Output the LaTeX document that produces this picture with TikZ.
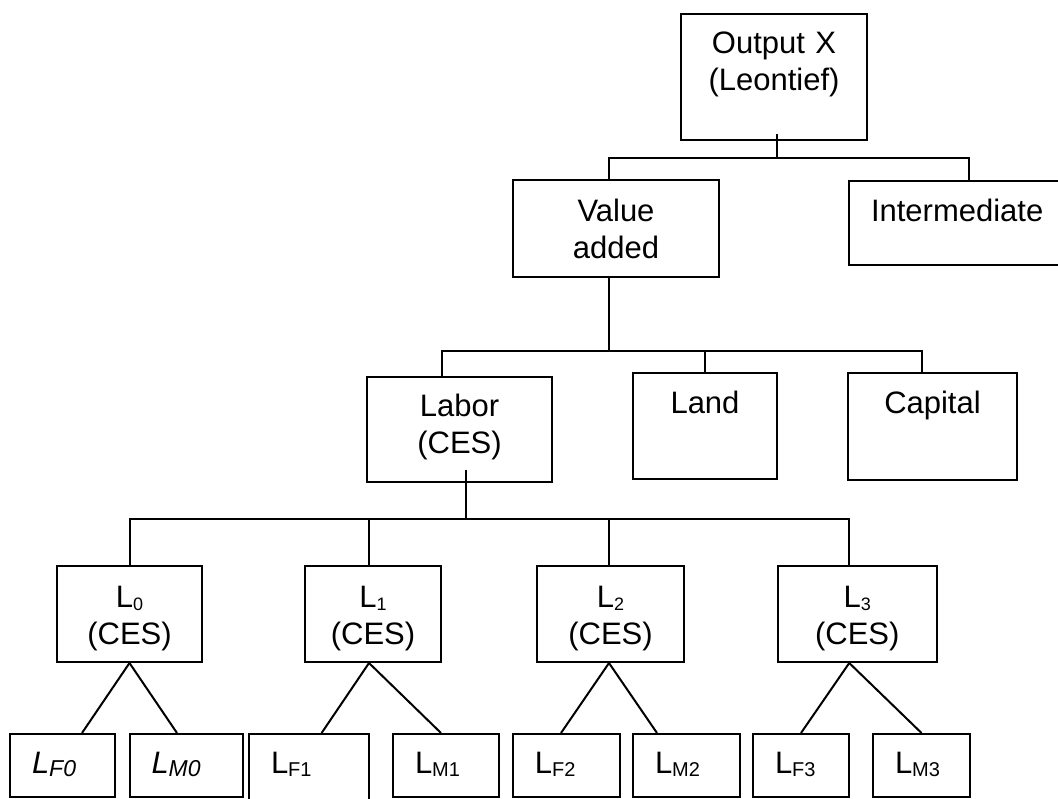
\documentclass[tikz,border=0pt]{standalone}
\usepackage{fontspec}
\setmainfont{Liberation Sans}
\newcommand{\lsub}[2][20]{\raisebox{-3pt}{\fontsize{#1}{#1}\selectfont #2}}

\tikzstyle{box}=[draw, line width=2pt, inner ysep=0pt, text height=22pt, font=\fontsize{31}{37}\selectfont]
\tikzstyle{cbox}=[box, inner xsep=0pt, align=center]
\tikzstyle{lbox}=[box, inner xsep=22pt, align=left]
\tikzstyle{link}=[line width=2pt]

\begin{document}
\begin{tikzpicture}[x=1pt, y=-1pt]
  \useasboundingbox (0,0) rectangle (1058,799);
  % output and its two inputs
  \node[cbox, text width=186pt, minimum height=126pt, text depth=69pt] (out) at (774,77) {Output X\\(Leontief)};
  \node[cbox, text width=206pt, minimum height=97pt, text depth=36pt] (vadd) at (616,228.5) {Value\\added};
  \node[lbox, text width=196pt, minimum height=84pt, text depth=24pt] (int) at (969,223) {Intermediate};
  % factors
  \node[cbox, text width=185pt, minimum height=105pt, text depth=48pt] (labor) at (459.5,429.5) {Labor\\(CES)};
  \node[cbox, text width=144pt, minimum height=106pt, text depth=47pt] (land) at (705,426) {Land};
  \node[cbox, text width=169pt, minimum height=107pt, text depth=48pt] (capital) at (932.5,426.5) {Capital};
  % labor groups
  \foreach \i/\x/\w in {0/129.5/145, 1/373/136.5, 2/610.5/147, 3/857.25/159.5} {%
    \node[cbox, text width=\w pt, minimum height=96pt, text depth=36pt] (l\i) at (\x,614) {L\lsub[18]{\i}\\(CES)};
  }
  % female / male
  \node[lbox, text width=61pt, minimum height=63pt, text depth=6pt] (lf0) at (62.5,765.5) {\textit{L\lsub[23]{F0}}};
  \node[lbox, text width=69pt, minimum height=63pt, text depth=6pt] (lm0) at (186,765.5) {\textit{L\lsub[23]{M0}}};
  \node[lbox, text width=76pt, minimum height=100pt, text depth=43pt] (lf1) at (309,784) {L\lsub{F1}};
  \node[lbox, text width=62pt, minimum height=63pt, text depth=6pt] (lm1) at (446,765.5) {L\lsub{M1}};
  \node[lbox, text width=63pt, minimum height=63pt, text depth=6pt] (lf2) at (566.4,765.5) {L\lsub{F2}};
  \node[lbox, text width=63pt, minimum height=63pt, text depth=6pt] (lm2) at (686.5,765.5) {L\lsub{M2}};
  \node[lbox, text width=52pt, minimum height=63pt, text depth=6pt] (lf3) at (801,765.5) {L\lsub{F3}};
  \node[lbox, text width=53pt, minimum height=63pt, text depth=6pt] (lm3) at (921.5,765.5) {L\lsub{M3}};

  \draw[link] ([xshift=3pt,yshift=7pt]out.south) -- ++(0,24) coordinate (b1);
  \draw[link] ([xshift=-7pt]vadd.north) |- (b1) -| (int.north);

  \draw[link] ([xshift=-7pt]vadd.south) -- ++(0,73) coordinate (b2);
  \draw[link] ([xshift=-18pt]labor.north) |- (b2) -| ([xshift=-11pt]capital.north);
  \draw[link] (land.north) -- (land.north |- b2);

  \draw[link] ([xshift=6.5pt,yshift=13pt]labor.south) -- ++(0,49) coordinate (b3);
  \draw[link] (l0.north) |- (b3) -| ([xshift=-8pt]l3.north);
  \draw[link] ([xshift=-4pt]l1.north) -- ([xshift=-4pt]l1.north |- b3);
  \draw[link] ([xshift=-1.5pt]l2.north) -- ([xshift=-1.5pt]l2.north |- b3);

  \draw[link] (l0.south) -- ([xshift=19.5pt]lf0.north);
  \draw[link] (l0.south) -- ([xshift=-9pt]lm0.north);
  \draw[link] ([xshift=-4pt]l1.south) -- ([xshift=12.6pt]lf1.north);
  \draw[link] ([xshift=-4pt]l1.south) -- ([xshift=-5pt]lm1.north);
  \draw[link] ([xshift=-1.5pt]l2.south) -- ([xshift=-5.4pt]lf2.north);
  \draw[link] ([xshift=-1.5pt]l2.south) -- ([xshift=-29.5pt]lm2.north);
  \draw[link] ([xshift=-8pt]l3.south) -- (lf3.north);
  \draw[link] ([xshift=-8pt]l3.south) -- (lm3.north);
\end{tikzpicture}
\end{document}
